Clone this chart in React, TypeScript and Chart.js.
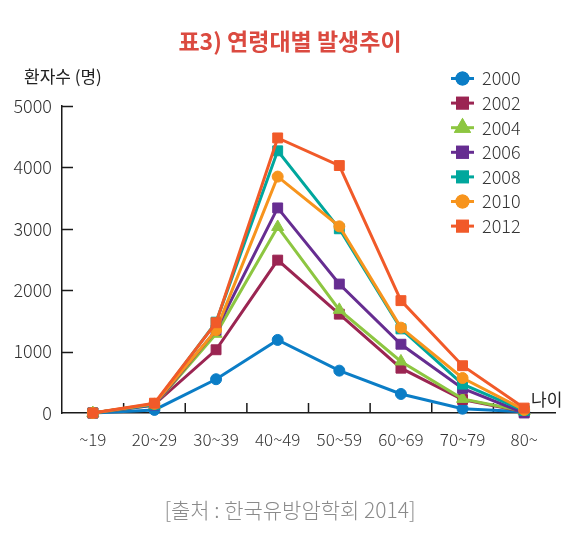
import React, { useEffect, useRef } from 'react';
import { Chart, registerables } from 'chart.js';
import { drawPoint } from 'chart.js/helpers';

Chart.register(...registerables);

// 나이 구간
const ageGroups = ['~19', '20~29', '30~39', '40~49', '50~59', '60~69', '70~79', '80~'];

// 연도별 환자수
const years = ['2000', '2002', '2004', '2006', '2008', '2010', '2012'];
const y2000 = [0, 50, 550, 1190, 690, 310, 70, 20];
const y2002 = [0, 140, 1030, 2490, 1610, 730, 220, 20];
const y2004 = [0, 130, 1290, 3030, 1680, 840, 230, 30];
const y2006 = [0, 130, 1350, 3340, 2100, 1120, 400, 0];
const y2008 = [0, 140, 1480, 4270, 3000, 1370, 470, 40];
const y2010 = [0, 150, 1350, 3850, 3040, 1390, 570, 50];
const y2012 = [0, 160, 1470, 4480, 4030, 1830, 770, 80];
const yTicks = [0, 1000, 2000, 3000, 4000, 5000];

const seriesValues = [y2000, y2002, y2004, y2006, y2008, y2010, y2012];
const colors = ['#0b7dc6', '#9b2552', '#8dc641', '#662d91', '#00a79d', '#f7941d', '#f15a29'];
const markers = ['circle', 'rect', 'triangle', 'rect', 'rect', 'circle', 'rect'];

const krFont = '"Noto Sans CJK KR", "Noto Sans", sans-serif';

const radiusFor = (style: string) => (style === 'circle' ? 5.5 : 7);

// 안쪽으로 향한 눈금
const innerTicks = {
  id: 'innerTicks',
  beforeDatasetsDraw(chart: any) {
    const { ctx, scales } = chart;
    const xs = scales.x;
    const ys = scales.y;
    ctx.save();
    ctx.strokeStyle = '#1a1a1a';
    ctx.lineWidth = 1.5;
    ctx.beginPath();
    yTicks.forEach((v) => {
      const y = Math.round(ys.getPixelForValue(v)) + 0.5;
      if (v === 0) return;
      ctx.moveTo(xs.left, y);
      ctx.lineTo(xs.left + 11, y);
    });
    for (let i = 0; i < ageGroups.length - 1; i++) {
      const x = (xs.getPixelForValue(i) + xs.getPixelForValue(i + 1)) / 2;
      ctx.moveTo(x, ys.bottom);
      ctx.lineTo(x, ys.bottom - 10);
    }
    ctx.stroke();
    ctx.restore();
  },
};

// 오른쪽 위 범례 (선 + 표식)
const sideLegend = {
  id: 'sideLegend',
  afterDraw(chart: any) {
    const { ctx } = chart;
    ctx.save();
    chart.data.datasets.forEach((ds: any, i: number) => {
      const y = 78.5 + i * 24.6;
      ctx.strokeStyle = ds.borderColor;
      ctx.lineWidth = 3;
      ctx.beginPath();
      ctx.moveTo(451, y);
      ctx.lineTo(474, y);
      ctx.stroke();
      ctx.fillStyle = ds.borderColor;
      drawPoint(ctx, { pointStyle: ds.pointStyle, radius: ds.pointRadius, rotation: 0, borderWidth: 1 }, 462.5, y);
      ctx.fill();
      ctx.stroke();
      ctx.fillStyle = '#333';
      ctx.font = `300 18px ${krFont}`;
      ctx.textAlign = 'left';
      ctx.textBaseline = 'middle';
      ctx.fillText(ds.label, 482, y);
    });
    ctx.restore();
  },
};

const AgeChart: React.FC = () => {
  const chartRef = useRef<HTMLCanvasElement>(null);
  const chartInstance = useRef<Chart | null>(null);

  useEffect(() => {
    if (!chartRef.current) return;
    if (chartInstance.current) chartInstance.current.destroy();

    chartInstance.current = new Chart(chartRef.current, {
      type: 'line',
      data: {
        labels: ageGroups,
        datasets: years.map((label, i) => ({
          label,
          data: seriesValues[i],
          borderColor: colors[i],
          backgroundColor: colors[i],
          pointBackgroundColor: colors[i],
          pointBorderColor: colors[i],
          pointStyle: markers[i],
          pointRadius: radiusFor(markers[i]),
          pointBorderWidth: 1,
          borderWidth: 3,
          tension: 0,
          order: years.length - 1 - i,
          clip: false as any,
        })),
      },
      options: {
        animation: false,
        responsive: false,
        devicePixelRatio: 1,
        layout: { padding: { top: 106, right: 25, left: 0, bottom: 0 } },
        plugins: {
          legend: { display: false },
          tooltip: { enabled: false },
        },
        scales: {
          x: {
            type: 'category',
            offset: true,
            grid: { display: false, drawTicks: false },
            border: { display: true, color: '#1a1a1a', width: 1.5 },
            ticks: {
              padding: 16,
              color: '#333',
              font: { family: krFont, size: 17, weight: 300 as any },
              maxRotation: 0,
            },
            afterFit: (scale: any) => {
              scale.height = 133;
            },
          },
          y: {
            type: 'linear',
            min: 0,
            max: 5000,
            grid: { display: false, drawTicks: false },
            border: { display: true, color: '#1a1a1a', width: 1.5 },
            afterBuildTicks: (scale: any) => {
              scale.ticks = yTicks.map((v) => ({ value: v }));
            },
            ticks: {
              padding: 10,
              color: '#333',
              font: { family: krFont, size: 18, weight: 300 as any },
              callback: (v: any) => String(v),
            },
            afterFit: (scale: any) => {
              scale.width = 62;
            },
          },
        },
      },
      plugins: [innerTicks, sideLegend],
    });

    return () => {
      if (chartInstance.current) {
        chartInstance.current.destroy();
        chartInstance.current = null;
      }
    };
  }, []);

  return (
    <div style={{ position: 'relative', width: 580, height: 546, background: '#fff' }}>
      <canvas ref={chartRef} width={580} height={546} style={{ position: 'absolute', left: 0, top: 0 }} />
      <div
        style={{
          position: 'absolute',
          left: 0,
          top: 0,
          right: 0,
          bottom: 0,
          border: '2px solid #c8c8c8',
          pointerEvents: 'none',
        }}
      />
      <div
        style={{
          position: 'absolute',
          left: 0,
          width: 580,
          top: 26,
          textAlign: 'center',
          fontFamily: krFont,
          fontWeight: 700,
          fontSize: 23,
          lineHeight: '28px',
          color: '#db4a40',
        }}
      >
        표3) 연령대별 발생추이
      </div>
      <div
        style={{
          position: 'absolute',
          left: 24,
          top: 64,
          fontFamily: krFont,
          fontSize: 17,
          lineHeight: '24px',
          color: '#222',
        }}
      >
        환자수 (명)
      </div>
      <div
        style={{
          position: 'absolute',
          left: 531,
          top: 387,
          fontFamily: krFont,
          fontSize: 17,
          lineHeight: '24px',
          color: '#222',
        }}
      >
        나이
      </div>
      <div
        style={{
          position: 'absolute',
          left: 0,
          width: 580,
          top: 494,
          textAlign: 'center',
          fontFamily: krFont,
          fontWeight: 300,
          fontSize: 21,
          lineHeight: '30px',
          color: '#8a8a8a',
        }}
      >
        [출처 : 한국유방암학회 2014]
      </div>
    </div>
  );
};

export default function App() {
  return (
    <div style={{ margin: -8 }}>
      <AgeChart />
    </div>
  );
}
